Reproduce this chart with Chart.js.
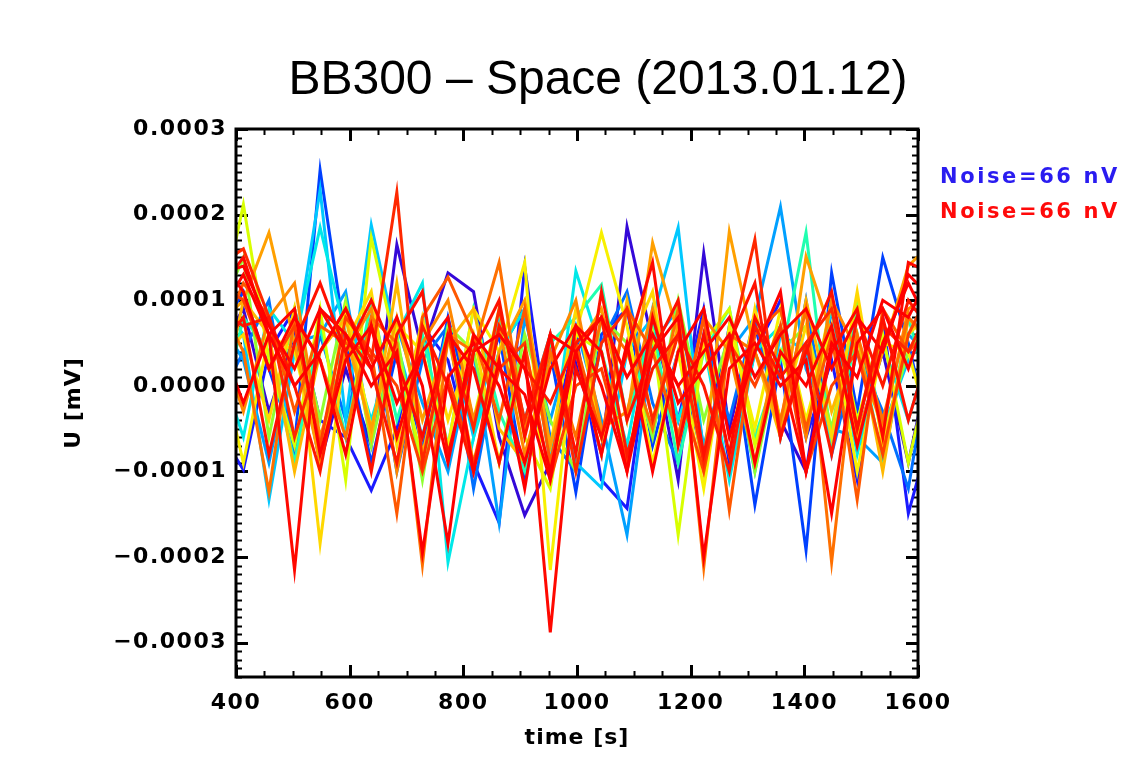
<!DOCTYPE html>
<html>
<head>
<meta charset="utf-8">
<script src="https://cdn.jsdelivr.net/npm/chart.js@4.4.1/dist/chart.umd.min.js"></script>
<style>
  html, body { margin: 0; padding: 0; background: #ffffff; }
  canvas { display: block; }
</style>
</head>
<body>
<canvas id="chart" width="1133" height="757"></canvas>
<script>
// ---- text ----
const TITLE = 'BB300 \u2013 Space (2013.01.12)';
const X_TITLE = 'time [s]';
const Y_TITLE = 'U [mV]';
const NOISE_LABELS = ['Noise=66 nV', 'Noise=66 nV'];
const NOISE_COLORS = ['#2a1cf0', '#ff0a0a'];

// ---- axes ----
const X_MIN = 400, X_MAX = 1600;
const Y_MIN = -0.00034, Y_MAX = 0.0003;
const xTicks = [400, 600, 800, 1000, 1200, 1400, 1600];
const yTicks = [-0.0003, -0.0002, -0.0001, 0, 0.0001, 0.0002, 0.0003];

// ---- sample times [s] ----
const sampleTimes = [368, 413, 458, 503, 548, 593, 638, 683, 728, 773, 818, 863, 908, 953, 998,
                     1043, 1088, 1133, 1178, 1223, 1268, 1313, 1358, 1403, 1448, 1493, 1538, 1583, 1628];

// ---- traces, in nV (colour ramp from violet-blue to red) ----
const trace01 = [40, 90, -30, 60, -90, 20, -70, 165, 40, 132, 110, -60, -151, -90, 30, -80, 186, 50, -110, 155, -50, 70, -40, -100, 90, -60, 40, -90, 50];
const trace02 = [-50, -98, 40, 90, -40, -60, -122, -50, 70, 30, -90, -160, 139, -70, 60, -110, -143, 70, -40, 90, -90, 40, 100, -60, 30, -110, 80, -149, -40];
const trace03 = [60, 110, 20, -70, 252, 50, -90, 40, -70, 80, -40, 60, -110, 40, -124, 60, 90, -70, 40, -90, 70, -139, 30, -192, 132, -30, 150, 50, -80];
const trace04 = [-20, 40, 100, -80, 60, -40, 80, -100, 30, 70, -120, 40, 90, -60, -100, 50, 110, -20, -90, 60, -40, 80, -60, 100, -80, 40, -30, -120, 60];
const trace05 = [80, 30, -90, 50, 60, 110, -60, 70, -20, -100, 40, -160, 80, -40, 70, -40, -174, 50, 90, -70, 40, 80, 209, 20, -50, -60, -90, 60, 30];
const trace06 = [100, 60, -133, 40, 229, -40, 188, 50, -60, 70, -60, 80, -40, 60, -90, -119, 40, 80, 185, -80, 50, -100, 60, 40, -70, 90, -50, 30, 70];
const trace07 = [30, -60, 90, 50, 185, 60, -40, 60, 120, -206, -60, 40, 90, -90, 134, 40, -70, 90, -40, 50, -110, 40, 70, -50, 90, -80, 50, -40, 60];
const trace08 = [-50, 80, 40, -90, 70, -60, 100, -40, 60, -70, 90, -30, -100, 50, 80, 118, -40, 70, -90, 40, 90, -60, 30, 179, -70, 60, -90, 80, -30];
const trace09 = [80, 150, -60, 90, -40, 100, -70, 60, -110, 70, 40, -90, 60, -40, -100, 80, 50, -60, 100, -40, 60, -100, 40, 70, -50, 100, -60, 40, 90];
const trace10 = [70, 212, 30, -70, 90, -110, 173, 40, -90, 60, -40, 90, -60, -120, 60, 40, -90, 60, -174, 50, 90, -70, 40, -50, 100, -40, 60, -90, 40];
const trace11 = [40, -90, 60, 40, -80, 90, -50, 70, 40, -70, 90, 40, 144, -215, 60, 179, 70, -90, 40, -120, 70, -50, 90, -40, 70, -100, 50, 40, -70];
const trace12 = [30, 60, -40, 90, -184, 50, 110, -70, 80, -40, 60, -90, 40, -70, 90, -60, 40, 110, -70, 50, -80, 90, -40, 70, -60, 110, -70, 60, 90];
const trace13 = [-40, 100, 60, -100, 40, 80, -60, 120, -80, 50, 90, -50, -90, 60, 40, -80, 100, -40, 70, -100, 60, 40, -60, 100, -30, 60, -100, 80, 40];
const trace14 = [70, 100, 179, 50, -90, 60, -50, 80, -40, 60, -90, 40, 100, -70, 40, 90, -40, 167, 60, -90, 180, 40, -50, 151, 60, -60, 40, 140, 170];
const trace15 = [60, -30, 80, 120, -60, 40, 90, -100, 50, 100, -40, 70, -80, 30, 100, -50, -30, 90, -60, 80, 40, -90, 70, -60, 100, 40, -50, 90, 110];
const trace16 = [100, 40, -124, 80, 30, -60, 80, 50, -209, 60, 40, 144, -50, 40, -60, 80, 40, -50, 90, -212, 60, 40, -40, 90, -206, 60, -40, 80, 50];
const trace17 = [50, 120, 80, -30, 70, 50, 40, -149, 80, 127, 60, -40, 90, -90, 50, -60, 90, 40, -60, 80, -145, 60, 90, -50, 60, -133, 90, 40, 70];
const trace18 = [120, 100, 20, 70, -70, 80, 40, 0, -100, 10, -90, 20, 50, -110, 0, 20, -90, 60, 0, -100, 50, 0, 70, -100, 0, 40, -80, 60, 120];
const trace19 = [140, 160, 80, -60, 40, 90, 30, 226, -90, 60, -50, 90, -40, 60, -100, 50, 90, -40, 60, -90, 40, 171, -60, 50, 90, -50, 70, 40, 100];
const trace20 = [90, 70, 80, 0, -100, 60, 20, -90, 70, 0, -100, 70, 20, -20, 50, 80, -80, 20, 60, 0, -100, 70, 10, 50, -80, 80, 0, 100, 60];
const trace21 = [110, 150, 60, -215, 90, 40, 100, 30, -60, 60, 20, -90, 40, -288, 20, -60, 40, 144, -70, 60, -80, 80, 20, -100, 40, 90, -60, 144, 130];
const trace22 = [130, 140, 70, 20, 90, 60, 0, 40, -195, 10, 50, 0, -90, 20, 70, 0, -100, 40, 80, -200, 20, 50, 0, 30, -149, 50, 90, 20, 110];
const trace23 = [80, 130, 60, 0, 40, 90, 20, 80, 0, -184, 40, 60, 20, -100, 40, 80, 10, 60, 0, 40, 80, 10, 60, 90, 20, 80, 40, 130, 100];
const trace24 = [40, 80, -80, 50, 120, 40, -100, 60, 110, -80, 40, 100, -60, 60, -80, 110, -40, 40, 100, -80, 50, 120, -60, 40, 110, -50, 80, -40, 60];
const trace25 = [150, 110, 20, 80, 30, -80, 70, -60, 40, 80, -100, 30, -120, 60, 40, -80, 50, -100, 40, 90, -60, 40, 110, -100, 50, 10, 100, 80, 140];
const trace26 = [60, -20, 60, 90, -80, 30, 70, -20, 40, -90, 60, 20, -10, -110, 70, 40, -100, 80, -20, 20, 60, -90, 40, 0, 70, -70, 50, 120, 60];

const traceColors = ['#3408d8', '#1a1aff', '#0040ff', '#0070ff', '#00a0ff', '#00c8ff', '#00e8e8', '#20ffb0',
                     '#90ff30', '#d8ff00', '#f8f000', '#ffd800', '#ffb800', '#ffa000', '#ff8800', '#ff7000',
                     '#ff5800', '#ff4000', '#ff2800', '#ff1800', '#ff0800', '#ff0000', '#ff0000', '#ff1000',
                     '#ff0000', '#ff0000'];

const traces = [trace01, trace02, trace03, trace04, trace05, trace06, trace07, trace08, trace09, trace10,
                trace11, trace12, trace13, trace14, trace15, trace16, trace17, trace18, trace19, trace20,
                trace21, trace22, trace23, trace24, trace25, trace26];

const NV_TO_MV = 1e-6;

const datasets = traces.map((vals, i) => ({
  label: 'trace ' + (i + 1),
  data: sampleTimes.map((t, k) => ({ x: t, y: vals[k] * NV_TO_MV })),
  borderColor: traceColors[i],
  borderWidth: 3,
  pointRadius: 0,
  tension: 0,
  fill: false,
  clip: 0,
  order: traces.length - i   // later (redder) traces drawn on top
}));

const IDL_FONT = 'DejaVu Sans';

function fmtY(v) {
  if (Math.abs(v) < 1e-12) return '0.0000';
  return (v < 0 ? '\u2212' : '') + Math.abs(v).toFixed(4);
}

// Box frame, inward major/minor ticks and the free-standing texts
const framePlugin = {
  id: 'frame',
  beforeDraw(chart) {
    chart.ctx.letterSpacing = '1.5px';
  },
  beforeDatasetsDraw(chart) {
    const { ctx, chartArea: a, scales: { x, y } } = chart;
    ctx.save();
    ctx.strokeStyle = '#000';
    ctx.lineCap = 'butt';
    // x ticks (bottom and top, pointing inward)
    for (let t = X_MIN; t <= X_MAX; t += 50) {
      const major = (t % 200) === 0;
      const len = major ? 12 : 6;
      const px = Math.round(x.getPixelForValue(t)) + 0.5;
      ctx.lineWidth = major ? 3 : 2;
      ctx.beginPath();
      ctx.moveTo(px, a.bottom); ctx.lineTo(px, a.bottom - len);
      ctx.moveTo(px, a.top); ctx.lineTo(px, a.top + len);
      ctx.stroke();
    }
    // y ticks (left and right, pointing inward), minor every 1e-5 mV
    for (let k = -34; k <= 30; k++) {
      const major = (k % 10) === 0;
      const len = major ? 12 : 6;
      const py = Math.round(y.getPixelForValue(k * 1e-5)) + 0.5;
      ctx.lineWidth = major ? 3 : 2;
      ctx.beginPath();
      ctx.moveTo(a.left, py); ctx.lineTo(a.left + len, py);
      ctx.moveTo(a.right, py); ctx.lineTo(a.right - len, py);
      ctx.stroke();
    }
    ctx.restore();
  },
  afterDraw(chart) {
    const { ctx, chartArea: a } = chart;
    ctx.save();
    // frame
    ctx.strokeStyle = '#000';
    ctx.lineWidth = 3;
    ctx.strokeRect(a.left, a.top, a.right - a.left, a.bottom - a.top);

    // title
    ctx.letterSpacing = '0px';
    ctx.fillStyle = '#000';
    ctx.font = '48px "Liberation Sans", Arial, sans-serif';
    ctx.textAlign = 'center';
    ctx.textBaseline = 'alphabetic';
    ctx.fillText(TITLE, 598, 94);

    // axis titles
    ctx.letterSpacing = '1px';
    ctx.font = 'bold 22px "' + IDL_FONT + '"';
    ctx.textBaseline = 'middle';
    ctx.fillText(X_TITLE, (a.left + a.right) / 2, 738);
    ctx.save();
    ctx.translate(74, (a.top + a.bottom) / 2);
    ctx.rotate(-Math.PI / 2);
    ctx.fillText(Y_TITLE, 0, 0);
    ctx.restore();

    // noise annotations
    ctx.letterSpacing = '2.6px';
    ctx.font = 'bold 21px "' + IDL_FONT + '"';
    ctx.textAlign = 'left';
    NOISE_LABELS.forEach((txt, i) => {
      ctx.fillStyle = NOISE_COLORS[i];
      ctx.fillText(txt, 940, 178 + i * 35);
    });
    ctx.restore();
    ctx.letterSpacing = '0px';
  }
};

new Chart(document.getElementById('chart'), {
  type: 'line',
  data: { datasets },
  plugins: [framePlugin],
  options: {
    responsive: false,
    animation: false,
    events: [],
    layout: { padding: { top: 129, right: 215, left: 0, bottom: 0 } },
    plugins: {
      legend: { display: false },
      title: { display: false },
      tooltip: { enabled: false }
    },
    scales: {
      x: {
        type: 'linear',
        min: X_MIN,
        max: X_MAX,
        afterBuildTicks: s => { s.ticks = xTicks.map(v => ({ value: v })); },
        afterFit: s => { s.height = 80; },
        grid: { display: false, drawTicks: false },
        border: { display: false },
        ticks: {
          color: '#000',
          padding: 13,
          maxRotation: 0,
          autoSkip: false,
          font: { family: IDL_FONT, size: 22, weight: 'bold' },
          callback: v => String(v)
        }
      },
      y: {
        type: 'linear',
        min: Y_MIN,
        max: Y_MAX,
        afterBuildTicks: s => { s.ticks = yTicks.map(v => ({ value: v })); },
        afterFit: s => { s.width = 236; },
        grid: { display: false, drawTicks: false },
        border: { display: false },
        ticks: {
          color: '#000',
          padding: 9,
          autoSkip: false,
          font: { family: IDL_FONT, size: 22, weight: 'bold' },
          callback: v => fmtY(v)
        }
      }
    }
  }
});
</script>
</body>
</html>
